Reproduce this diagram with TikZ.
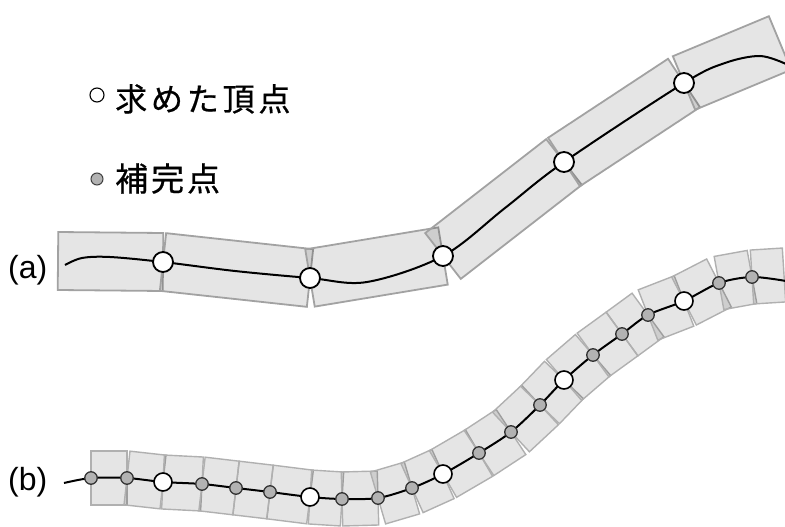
\documentclass[tikz,border=0pt]{standalone}
\usepackage{fontspec}
\setmainfont{Liberation Sans}
\newfontfamily\cjk[FakeBold=0.6]{Noto Sans CJK JP}
\usetikzlibrary{calc}
\definecolor{rectedge}{HTML}{A2A2A2}
\definecolor{rectedgeb}{HTML}{B0B0B0}
\definecolor{dotgray}{HTML}{B2B2B2}
\newcommand\segrect[4]{\path[#1] ($(#2)!#4!90:(#3)$) -- ($(#3)!#4!-90:(#2)$) -- ($(#3)!#4!90:(#2)$) -- ($(#2)!#4!-90:(#3)$) -- cycle;}
\begin{document}
\begin{tikzpicture}[x=1pt,y=-1pt,
  rectA/.style={fill=black,fill opacity=0.1,draw=rectedge,draw opacity=1,line width=1.8pt},
  rectB/.style={fill=black,fill opacity=0.1,draw=rectedgeb,draw opacity=1,line width=1.4pt},
  curve/.style={draw=black,line width=2pt},
  vtxa/.style={circle,draw=black,fill=white,line width=1.8pt,minimum size=20pt,inner sep=0pt},
  vtxb/.style={circle,draw=black,fill=white,line width=1.6pt,minimum size=18pt,inner sep=0pt},
  gdot/.style={circle,draw=black!80,fill=dotgray,line width=1.3pt,minimum size=12.5pt,inner sep=0pt},
  legw/.style={circle,draw=black,fill=white,line width=1.1pt,minimum size=14pt,inner sep=0pt},
  legg/.style={circle,draw=black!75,fill=dotgray,line width=1pt,minimum size=12pt,inner sep=0pt},
  lbl/.style={anchor=base west,inner sep=0pt,font=\fontsize{32}{36}\selectfont},
  legtext/.style={anchor=base west,inner sep=0pt}]
\useasboundingbox (0,0) rectangle (785,527);

% ---------- (a) ----------
\coordinate (aS) at (58,261);
\coordinate (aV1) at (163,262);
\coordinate (aV2) at (310,278);
\coordinate (aV3) at (443,256);
\coordinate (aV4) at (564,162);
\coordinate (aV5) at (684,83);
\coordinate (aE) at (780,43);

\segrect{rectA}{aS}{aV1}{29pt}
\segrect{rectA}{aV1}{aV2}{29pt}
\segrect{rectA}{aV2}{aV3}{29pt}
\segrect{rectA}{aV3}{aV4}{29pt}
\segrect{rectA}{aV4}{aV5}{29pt}
\segrect{rectA}{aV5}{aE}{29pt}

\draw[curve] plot[smooth,tension=0.55] coordinates {(65,265) (82,258) (110,257) (aV1) (235,271) (aV2) (367,282) (aV3) (505,208) (aV4) (aV5) (725,63) (760,56) (786,64)};

\node[vtxa] (a1) at (aV1) {};
\node[vtxa] (a2) at (aV2) {};
\node[vtxa] (a3) at (aV3) {};
\node[vtxa] (a4) at (aV4) {};
\node[vtxa] (a5) at (aV5) {};

% ---------- (b) ----------
\coordinate (b0) at (64,483);
\coordinate (g1) at (91,478);
\coordinate (g2) at (127,478);
\coordinate (w1) at (163,482);
\coordinate (g3) at (202,484);
\coordinate (g4) at (236,488);
\coordinate (g5) at (270,492);
\coordinate (w2) at (310,497);
\coordinate (g6) at (342,499);
\coordinate (g7) at (378,498);
\coordinate (g8) at (412,488);
\coordinate (w3) at (443,474);
\coordinate (g9) at (479,453);
\coordinate (g10) at (511,432);
\coordinate (g11) at (540,405);
\coordinate (w4) at (564,380);
\coordinate (g12) at (593,355);
\coordinate (g13) at (622,334);
\coordinate (g14) at (648,315);
\coordinate (w5) at (684,301);
\coordinate (g15) at (719,283);
\coordinate (g16) at (752,277);
\coordinate (bE) at (784,275);

\segrect{rectB}{g1}{g2}{27pt}
\segrect{rectB}{g2}{w1}{27pt}
\segrect{rectB}{w1}{g3}{27pt}
\segrect{rectB}{g3}{g4}{27pt}
\segrect{rectB}{g4}{g5}{27pt}
\segrect{rectB}{g5}{w2}{27pt}
\segrect{rectB}{w2}{g6}{27pt}
\segrect{rectB}{g6}{g7}{27pt}
\segrect{rectB}{g7}{g8}{27pt}
\segrect{rectB}{g8}{w3}{27pt}
\segrect{rectB}{w3}{g9}{27pt}
\segrect{rectB}{g9}{g10}{27pt}
\segrect{rectB}{g10}{g11}{27pt}
\segrect{rectB}{g11}{w4}{27pt}
\segrect{rectB}{w4}{g12}{27pt}
\segrect{rectB}{g12}{g13}{27pt}
\segrect{rectB}{g13}{g14}{27pt}
\segrect{rectB}{g14}{w5}{27pt}
\segrect{rectB}{w5}{g15}{27pt}
\segrect{rectB}{g15}{g16}{27pt}
\segrect{rectB}{g16}{bE}{27pt}

\draw[curve] plot[smooth,tension=0.5] coordinates {(b0) (g1) (g2) (w1) (g3) (g4) (g5) (w2) (g6) (g7) (g8) (w3) (g9) (g10) (g11) (w4) (g12) (g13) (g14) (w5) (g15) (g16) (786,281)};

\foreach \p in {g1,g2,g3,g4,g5,g6,g7,g8,g9,g10,g11,g12,g13,g14,g15,g16}
  \node[gdot] (n\p) at (\p) {};
\foreach \p in {w1,w2,w3,w4,w5}
  \node[vtxb] (n\p) at (\p) {};

% ---------- legend ----------
\node[legw] (lw) at (97,95) {};
\node[legtext,font=\cjk\fontsize{32}{38}\selectfont\addfontfeature{LetterSpace=12}] (lt1) at (115,111) {求めた頂点};
\node[legg] (lg) at (97,179) {};
\node[legtext,font=\cjk\fontsize{33}{38}\selectfont\addfontfeature{LetterSpace=9}] (lt2) at (115,191) {補完点};

% ---------- labels ----------
\node[lbl] (la) at (8,278) {(a)};
\node[lbl] (lb) at (8,490) {(b)};
\end{tikzpicture}
\end{document}
